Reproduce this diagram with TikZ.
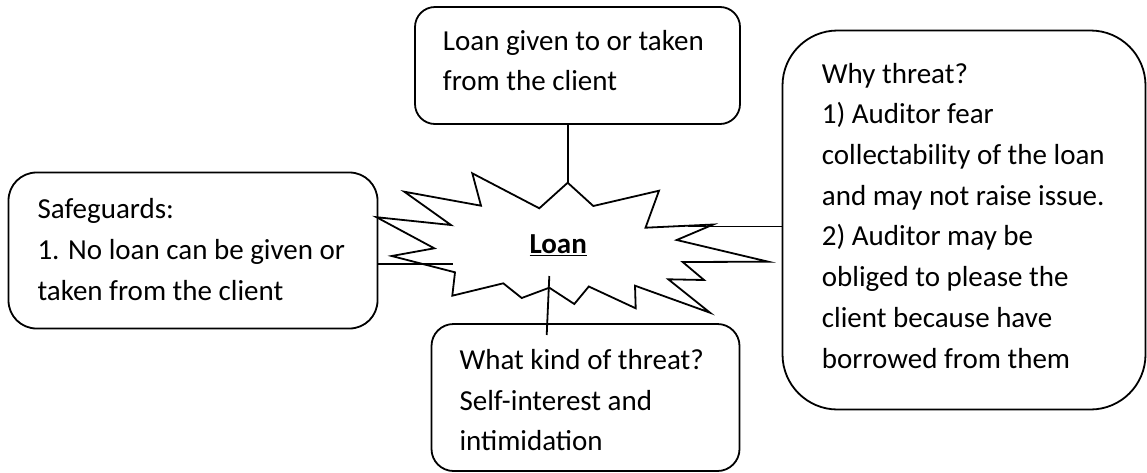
\documentclass[tikz,border=0pt]{standalone}
\usepackage{fontspec}
\setmainfont{Carlito}
\begin{document}
\begin{tikzpicture}[x=1pt,y=-1pt,
  box/.style={draw,line width=1.8pt,rounded corners=#1},
  txt/.style={anchor=base west,align=left,inner sep=0pt,
    font=\fontsize{29}{40.7}\selectfont},
  link/.style={line width=1.8pt}]
\useasboundingbox (0,0) rectangle (1147,472);

% rounded boxes
\node[box=20pt,minimum width=325pt,minimum height=117pt,inner sep=0pt] (topbox) at (577.5,65.5) {};
\node[box=28pt,minimum width=369pt,minimum height=156pt,inner sep=0pt] (leftbox) at (193,250.5) {};
\node[box=22pt,minimum width=308pt,minimum height=147pt,inner sep=0pt] (bottombox) at (585.5,397.5) {};
\node[box=55pt,minimum width=363pt,minimum height=379pt,inner sep=0pt] (rightbox) at (964,220) {};

% box texts (anchored at the baseline of their last line)
\node[txt] (toptext) at (442.7,90.7) {Loan given to or taken\\from the client};
\node[txt] (lefttext) at (37.3,300) {Safeguards:\\1. No loan can be given or\\taken from the client};
\node[txt] (bottomtext) at (459.3,450.7) {What kind of threat?\\Self-interest and\\intimidation};
\node[txt] (righttext) at (821.7,368) {Why threat?\\1) Auditor fear\\collectability of the loan\\and may not raise issue.\\2) Auditor may be\\obliged to please the\\client because have\\borrowed from them};

% central burst
\draw[line width=1.8pt,line join=miter,fill=white]
  (567.7,182.7) coordinate (startop) -- (593.3,206) -- (659,190.7) -- (645.5,227.7)
  -- (713.3,224.5) -- (676.7,240) -- (768.3,261.7) -- (682.7,262) -- (704,280)
  -- (668.3,279.3) -- (710,312.7) -- (635,285.7) -- (635.7,308.3) -- (588.8,286.5)
  -- (574.3,304) -- (549.3,287.7) -- (521.7,298) -- (503.3,283.3) -- (452.3,295.7)
  -- (455,272.3) -- (391.7,256) -- (434.3,248.3) -- (376.5,217.2) -- (451,225)
  -- (404.3,191.7) -- (481,205.7) -- (472.3,173.3) -- (539.3,208.3) -- cycle;
\node[txt] (loan) at (529.3,253.3) {\textbf{\underline{Loan}}};

% connectors
\coordinate (lfree) at (453.3,264.3);
\coordinate (rfree) at (688,226.5);
\coordinate (bfreetop) at (549.3,276);
\coordinate (bfreeend) at (546.7,335);
\draw[link] (startop |- topbox.south) -- (startop);
\draw[link] (lfree -| leftbox.east) -- (lfree);
\draw[link] (rfree) -- (rfree -| rightbox.west);
\draw[link] (bfreetop) -- (bfreeend);
\end{tikzpicture}
\end{document}
